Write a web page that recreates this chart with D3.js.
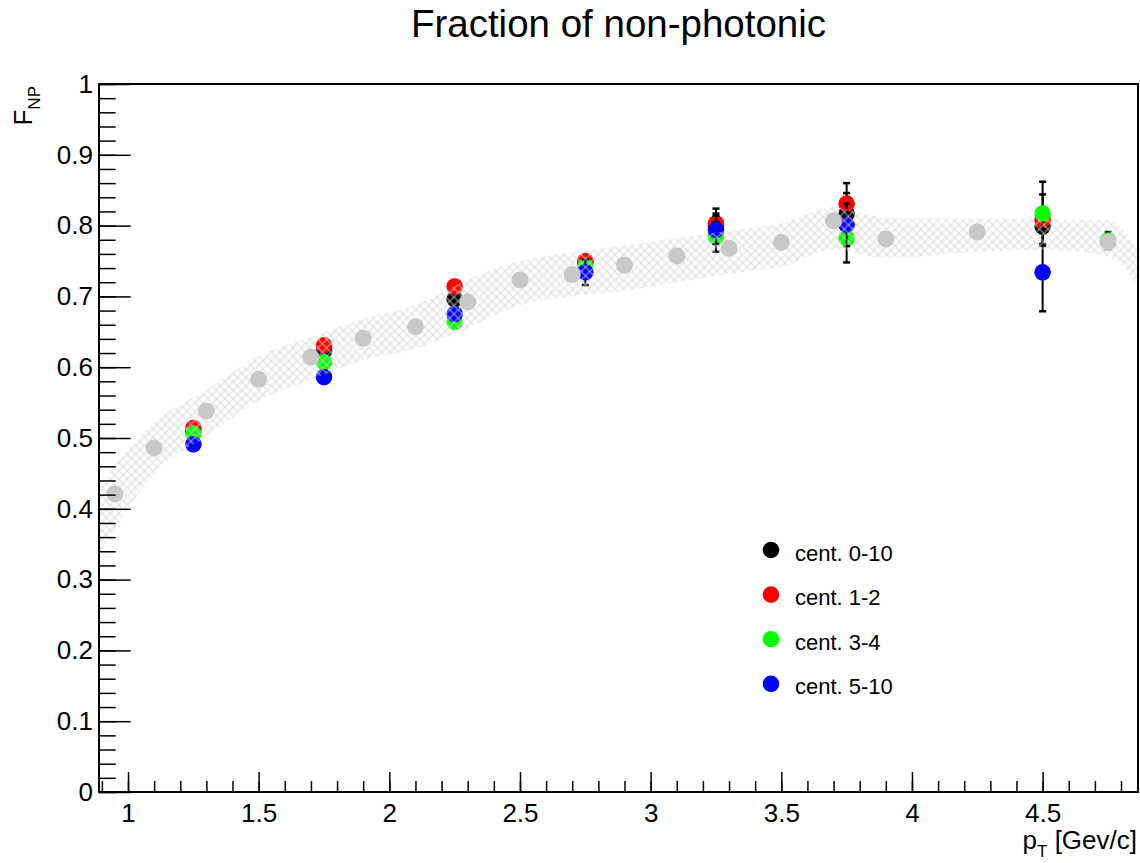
<!DOCTYPE html>
<html>
<head>
<meta charset="utf-8">
<script src="https://cdn.jsdelivr.net/npm/d3@7"></script>
<style>
  body { margin: 0; background: #fff; }
  svg { font-family: "Liberation Sans", Arial, Helvetica, sans-serif; }
</style>
</head>
<body>
<div id="chart"></div>
<script>
// centrality classes, measured points (pT in GeV/c)
var ptBins = [1.25, 1.75, 2.25, 2.75, 3.25, 3.75, 4.5];
var ptGreen = [1.25, 1.75, 2.25, 2.75, 3.25, 3.75, 4.5, 4.75];

var cent010 = [0.510, 0.623, 0.696, 0.749, 0.800, 0.817, 0.799];
var cent010Err = [0.006, 0.006, 0.008, 0.008, 0.017, 0.029, 0.025];
var cent12 = [0.514, 0.631, 0.714, 0.750, 0.803, 0.831, 0.808];
var cent12Err = [0.006, 0.007, 0.009, 0.008, 0.021, 0.029, 0.036];
var cent34 = [0.506, 0.607, 0.664, 0.742, 0.784, 0.782, 0.817, 0.779];
var cent34Err = [0.006, 0.007, 0.009, 0.010, 0.021, 0.034, 0.045, 0.012];
var cent510 = [0.491, 0.586, 0.675, 0.734, 0.794, 0.801, 0.734];
var cent510Err = [0.006, 0.007, 0.009, 0.018, 0.020, 0.030, 0.055];

// reference curve (grey dots) and its hatched band
var refPt = [0.95, 1.1, 1.3, 1.5, 1.7, 1.9, 2.1, 2.3, 2.5, 2.7, 2.9, 3.1, 3.3, 3.5, 3.7, 3.9, 4.25, 4.75];
var refF = [0.421, 0.486, 0.538, 0.583, 0.614, 0.641, 0.657, 0.692, 0.723, 0.731, 0.744, 0.757, 0.768, 0.776, 0.807, 0.781, 0.791, 0.777];

var bandPt = [0.889, 0.95, 1.0, 1.1, 1.3, 1.5, 1.7, 1.9, 2.1, 2.3, 2.5, 2.7, 2.9, 3.1, 3.3, 3.5, 3.7, 3.9, 4.25, 4.5, 4.75, 4.865];
var bandLow = [0.335, 0.372, 0.400, 0.450, 0.502, 0.553, 0.582, 0.610, 0.626, 0.655, 0.688, 0.700, 0.708, 0.720, 0.732, 0.742, 0.766, 0.754, 0.763, 0.766, 0.757, 0.714];
var bandHigh = [0.430, 0.462, 0.484, 0.522, 0.568, 0.615, 0.643, 0.668, 0.688, 0.724, 0.750, 0.762, 0.772, 0.782, 0.793, 0.803, 0.826, 0.811, 0.810, 0.809, 0.808, 0.766];

var legendNames = ["cent. 0-10", "cent. 1-2", "cent. 3-4", "cent. 5-10"];
var seriesColors = ["#000000", "#ff0000", "#00ff00", "#0000ff"];

var xTicksMajor = [1, 1.5, 2, 2.5, 3, 3.5, 4, 4.5];
var yTicksMajor = [0, 0.1, 0.2, 0.3, 0.4, 0.5, 0.6, 0.7, 0.8, 0.9, 1];

var W = 1140, H = 863;
var margin = { top: 84, right: 2, bottom: 71, left: 99 };

var svg = d3.select("#chart").append("svg").attr("width", W).attr("height", H);

var x = d3.scaleLinear().domain([0.889, 4.865]).range([margin.left, W - margin.right]);
var y = d3.scaleLinear().domain([0, 1]).range([H - margin.bottom, margin.top]);

var defs = svg.append("defs");
defs.append("clipPath").attr("id", "frameClip")
  .append("rect")
  .attr("x", x.range()[0]).attr("y", y.range()[1])
  .attr("width", x.range()[1] - x.range()[0])
  .attr("height", y.range()[0] - y.range()[1]);

var pat = defs.append("pattern")
  .attr("id", "hatch")
  .attr("patternUnits", "userSpaceOnUse")
  .attr("width", 6).attr("height", 6)
  .attr("patternTransform", "rotate(45)");
pat.append("path")
  .attr("d", "M0,3 H6 M3,0 V6")
  .attr("stroke", "#d6d6d6")
  .attr("stroke-width", 0.8)
  .attr("fill", "none");

// title
svg.append("text")
  .attr("x", (x.range()[0] + x.range()[1]) / 2)
  .attr("y", 37)
  .attr("text-anchor", "middle")
  .style("font-size", "38.5px")
  .text("Fraction of non-photonic");

var plot = svg.append("g").attr("clip-path", "url(#frameClip)");

// measured series (drawn first, band hatch goes over them)
var series = [
  { pt: ptBins, v: cent010, e: cent010Err },
  { pt: ptBins, v: cent12, e: cent12Err },
  { pt: ptGreen, v: cent34, e: cent34Err },
  { pt: ptBins, v: cent510, e: cent510Err }
];

series.forEach(function (s, i) {
  var pts = s.pt.map(function (p, j) { return { pt: p, v: s.v[j], e: s.e[j] }; });
  var g = plot.append("g");
  var eb = g.selectAll(".err").data(pts).enter().append("g");
  eb.append("line")
    .attr("x1", function (d) { return x(d.pt); })
    .attr("x2", function (d) { return x(d.pt); })
    .attr("y1", function (d) { return y(d.v - d.e); })
    .attr("y2", function (d) { return y(d.v + d.e); })
    .attr("stroke", "#000").attr("stroke-width", 2);
  [-1, 1].forEach(function (sgn) {
    eb.append("line")
      .attr("x1", function (d) { return x(d.pt) - 3.5; })
      .attr("x2", function (d) { return x(d.pt) + 3.5; })
      .attr("y1", function (d) { return y(d.v + sgn * d.e); })
      .attr("y2", function (d) { return y(d.v + sgn * d.e); })
      .attr("stroke", "#000")
      .attr("stroke-width", 2.5);
  });
  g.selectAll("circle").data(pts).enter().append("circle")
    .attr("cx", function (d) { return x(d.pt); })
    .attr("cy", function (d) { return y(d.v); })
    .attr("r", 8.3)
    .attr("fill", seriesColors[i]);
});

// hatched band
var bandData = bandPt.map(function (p, i) { return { pt: p, lo: bandLow[i], hi: bandHigh[i] }; });
var area = d3.area()
  .x(function (d) { return x(d.pt); })
  .y0(function (d) { return y(d.lo); })
  .y1(function (d) { return y(d.hi); })
  .curve(d3.curveMonotoneX);
plot.append("path").datum(bandData)
  .attr("d", area)
  .attr("fill", "url(#hatch)");

// reference grey points
plot.selectAll(".ref").data(refPt).enter().append("circle")
  .attr("class", "ref")
  .attr("cx", function (d) { return x(d); })
  .attr("cy", function (d, i) { return y(refF[i]); })
  .attr("r", 8.5)
  .attr("fill", "#c8c8c8");

// axes
var xMinor = d3.range(9, 49).map(function (d) { return d / 10; });
var yMinor = d3.range(0, 51).map(function (d) { return d / 50; });

svg.append("g")
  .attr("transform", "translate(0," + y.range()[0] + ")")
  .call(d3.axisBottom(x).tickValues(xMinor).tickSize(-11).tickFormat(""))
  .call(function (g) { g.select(".domain").remove(); g.selectAll("line").attr("stroke-width", 1.5); });

svg.append("g")
  .attr("transform", "translate(0," + y.range()[0] + ")")
  .call(d3.axisBottom(x).tickValues(xTicksMajor).tickSize(-20).tickPadding(12)
    .tickFormat(function (d) { return String(d); }))
  .call(function (g) {
    g.select(".domain").remove();
    g.selectAll("line").attr("stroke-width", 1.5);
    g.selectAll("text").style("font-size", "26px").attr("fill", "#000");
  });

svg.append("g")
  .attr("transform", "translate(" + x.range()[0] + ",0)")
  .call(d3.axisLeft(y).tickValues(yMinor).tickSize(-16.7).tickFormat(""))
  .call(function (g) { g.select(".domain").remove(); g.selectAll("line").attr("stroke-width", 1.5); });

svg.append("g")
  .attr("transform", "translate(" + x.range()[0] + ",0)")
  .call(d3.axisLeft(y).tickValues(yTicksMajor).tickSize(-31.7).tickPadding(6)
    .tickFormat(function (d) { return String(+d.toFixed(1)); }))
  .call(function (g) {
    g.select(".domain").remove();
    g.selectAll("line").attr("stroke-width", 1.5);
    g.selectAll("text").style("font-size", "26px").attr("fill", "#000");
  });

// frame
svg.append("rect")
  .attr("x", x.range()[0]).attr("y", y.range()[1])
  .attr("width", x.range()[1] - x.range()[0])
  .attr("height", y.range()[0] - y.range()[1])
  .attr("fill", "none").attr("stroke", "#000").attr("stroke-width", 2);

// axis titles
var xt = svg.append("text")
  .attr("x", 1137).attr("y", 849)
  .attr("text-anchor", "end")
  .style("font-size", "26px");
xt.append("tspan").text("p");
xt.append("tspan").attr("dy", 8).style("font-size", "17px").text("T");
xt.append("tspan").attr("dy", -8).text(" [Gev/c]");

var yt = svg.append("text")
  .attr("transform", "translate(32,86) rotate(-90)")
  .attr("text-anchor", "end")
  .style("font-size", "26px");
yt.append("tspan").text("F");
yt.append("tspan").attr("dy", 8).style("font-size", "17px").text("NP");

// legend
var leg = svg.append("g").attr("transform", "translate(771,550)");
var items = leg.selectAll("g").data(legendNames).enter().append("g")
  .attr("transform", function (d, i) { return "translate(0," + (i * 44.6) + ")"; });
items.append("circle").attr("r", 8.3).attr("fill", function (d, i) { return seriesColors[i]; });
items.append("text").attr("x", 24).attr("y", 10.5)
  .style("font-size", "22px")
  .text(function (d) { return d; });
</script>
</body>
</html>
